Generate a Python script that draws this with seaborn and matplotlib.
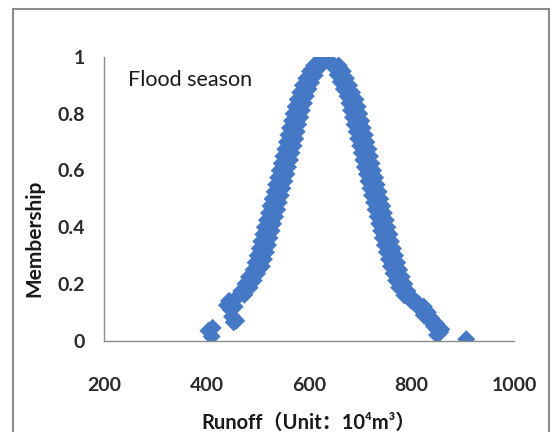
import matplotlib
matplotlib.use('Agg')
import matplotlib.pyplot as plt
import seaborn as sns
import pandas as pd
from matplotlib.patches import Rectangle

# Runoff (10^4 m^3) and membership values
# rising limb, low tail first
runoff_rise = [404, 410, 412, 440, 444, 447, 450, 453, 458, 455,
               458, 474, 468, 484, 476, 492, 483, 499, 492, 508,
               496, 512, 500, 516, 504, 520, 507, 523, 511, 527,
               514, 530, 518, 534, 522, 538, 525, 541, 529, 545,
               533, 548, 536, 552, 540, 556, 543, 559, 547, 563,
               550, 566, 554, 570, 557, 573, 560, 576, 563, 579,
               567, 583, 570, 586, 574, 590, 578, 594, 583, 599,
               588, 604, 595, 611, 602, 618, 610, 624, 620, 632]
member_rise = [0.035, 0.015, 0.045, 0.125, 0.14, 0.11, 0.085, 0.065, 0.07, 0.12,
               0.15, 0.162, 0.175, 0.187, 0.20, 0.212, 0.225, 0.237, 0.25, 0.262,
               0.275, 0.287, 0.30, 0.312, 0.325, 0.337, 0.35, 0.362, 0.375, 0.387,
               0.40, 0.412, 0.425, 0.437, 0.45, 0.462, 0.475, 0.487, 0.50, 0.512,
               0.525, 0.537, 0.55, 0.562, 0.575, 0.587, 0.60, 0.612, 0.625, 0.637,
               0.65, 0.662, 0.675, 0.687, 0.70, 0.712, 0.725, 0.737, 0.75, 0.762,
               0.775, 0.787, 0.80, 0.812, 0.825, 0.837, 0.85, 0.862, 0.875, 0.887,
               0.90, 0.91, 0.925, 0.935, 0.95, 0.96, 0.97, 0.98, 0.985, 1.0]

# falling limb down to the last isolated point
runoff_fall = [641, 658, 650, 666, 656, 672, 662, 678, 668, 684,
               675, 691, 679, 695, 682, 698, 686, 702, 689, 705,
               693, 709, 696, 712, 700, 716, 703, 719, 706, 722,
               709, 725, 713, 729, 716, 732, 720, 736, 723, 739,
               727, 743, 730, 746, 734, 750, 737, 753, 741, 757,
               744, 760, 748, 764, 752, 768, 756, 772, 760, 776,
               765, 781, 770, 786, 776, 792, 786, 802, 800, 814,
               810, 824, 818, 832, 824, 838, 836, 848, 844, 858,
               850, 856, 907]
member_fall = [0.985, 0.97, 0.962, 0.95, 0.937, 0.925, 0.912, 0.90, 0.887, 0.875,
               0.862, 0.85, 0.837, 0.825, 0.812, 0.80, 0.787, 0.775, 0.762, 0.75,
               0.737, 0.725, 0.712, 0.70, 0.687, 0.675, 0.662, 0.65, 0.637, 0.625,
               0.612, 0.60, 0.587, 0.575, 0.562, 0.55, 0.537, 0.525, 0.512, 0.50,
               0.487, 0.475, 0.462, 0.45, 0.437, 0.425, 0.412, 0.40, 0.387, 0.375,
               0.362, 0.35, 0.337, 0.325, 0.312, 0.30, 0.287, 0.275, 0.262, 0.25,
               0.237, 0.225, 0.212, 0.20, 0.187, 0.175, 0.16, 0.15, 0.14, 0.13,
               0.13, 0.12, 0.11, 0.10, 0.09, 0.08, 0.07, 0.06, 0.05, 0.04,
               0.02, 0.03, 0.005]

x_ticks = [200, 400, 600, 800, 1000]
y_ticks = [0, 0.2, 0.4, 0.6, 0.8, 1]
y_tick_labels = ['0', '0.2', '0.4', '0.6', '0.8', '1']

df = pd.DataFrame({'Runoff': runoff_rise + runoff_fall,
                   'Membership': member_rise + member_fall})

sns.set_style('white')
plt.rcParams['font.family'] = ['Lato', 'Noto Sans CJK SC', 'DejaVu Sans']

fig = plt.figure(figsize=(5.6, 4.32), dpi=100)
ax = fig.add_axes([0.1857, 0.2114, 0.7321, 0.6566])

sns.scatterplot(data=df, x='Runoff', y='Membership', marker='D', s=85,
                color='#4679C5', edgecolor='none', linewidth=0, ax=ax)

ax.set_xlim(200, 1000)
ax.set_ylim(0, 1)
ax.set_xticks(x_ticks)
ax.set_xticklabels([str(t) for t in x_ticks])
ax.set_yticks(y_ticks)
ax.set_yticklabels(y_tick_labels)

for side in ['top', 'right']:
    ax.spines[side].set_visible(False)
for side in ['left', 'bottom']:
    ax.spines[side].set_color('#8c8c8c')
    ax.spines[side].set_linewidth(1.0)

ax.tick_params(axis='x', direction='out', length=4, color='#8c8c8c', width=1,
               pad=22, labelsize=14, labelcolor='#2a2a2a')
ax.tick_params(axis='y', direction='out', length=4, color='#8c8c8c', width=1,
               pad=10, labelsize=14, labelcolor='#2a2a2a')
for lab in ax.get_xticklabels() + ax.get_yticklabels():
    lab.set_fontweight('bold')

ax.set_xlabel('Runoff（Unit：10⁴m³）', fontsize=14.5, fontweight='bold', color='#1a1a1a')
ax.set_ylabel('Membership', fontsize=15, fontweight='bold', color='#1a1a1a')
ax.xaxis.set_label_coords(0.50, -0.255)
ax.yaxis.set_label_coords(-0.145, 0.36)

ax.text(0.058, 0.92, 'Flood season', transform=ax.transAxes, fontsize=15.5,
        color='#1a1a1a', va='center', ha='left')

fig.patches.append(Rectangle((13 / 560, -0.05), 536 / 560, 0.979 + 0.05,
                             transform=fig.transFigure, fill=False,
                             edgecolor='#8c8c8c', linewidth=1.5))

plt.savefig('out.png', dpi=100)
